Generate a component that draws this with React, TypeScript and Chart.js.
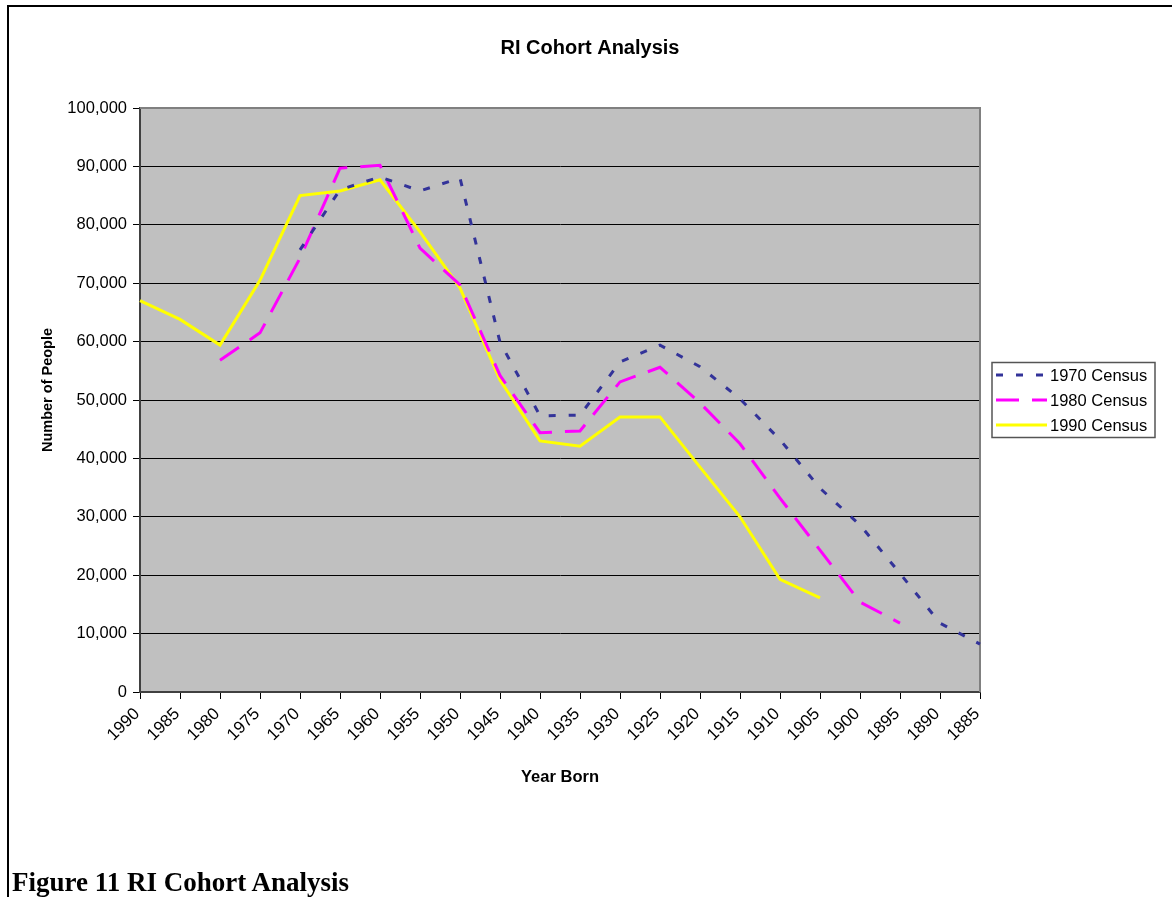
import React, { useEffect, useRef } from "react";
import { Chart, registerables } from "chart.js";

Chart.register(...registerables);

const years = [
  "1990", "1985", "1980", "1975", "1970", "1965", "1960", "1955", "1950", "1945", "1940",
  "1935", "1930", "1925", "1920", "1915", "1910", "1905", "1900", "1895", "1890", "1885",
];

const census1970 = [
  null, null, null, null, 75700, 86000, 88200, 85800, 88000, 59900, 47300,
  47400, 56500, 59400, 55700, 50200, 43200, 34900, 28600, 20300, 11800, 8200,
];

const census1980 = [
  null, null, 56800, 61500, 74300, 89700, 90200, 76000, 69700, 54200, 44400,
  44700, 53100, 55600, 49500, 42500, 33200, 24300, 15400, 11800, null, null,
];

const census1990 = [
  67000, 63800, 59400, 70500, 85000, 85800, 87700, 78800, 69200, 53400, 43000,
  42100, 47100, 47100, 38500, 30000, 19300, 16100, null, null, null, null,
];

const seriesLabels = ["1970 Census", "1980 Census", "1990 Census"];
const yMin = 0;
const yMax = 100000;
const yStep = 10000;

const chartTitle = "RI Cohort Analysis";
const xTitle = "Year Born";
const yTitle = "Number of People";
const caption = "Figure 11 RI Cohort Analysis";

const FONT = 'Arial, "Liberation Sans", Helvetica, sans-serif';

const plotBgPlugin = {
  id: "plotBg",
  beforeDraw(chart: any) {
    const { ctx, chartArea } = chart;
    ctx.save();
    ctx.fillStyle = "#C0C0C0";
    ctx.fillRect(chartArea.left, chartArea.top, chartArea.right - chartArea.left, chartArea.bottom - chartArea.top);
    ctx.restore();
  },
  beforeDatasetsDraw(chart: any) {
    const { ctx, chartArea } = chart;
    ctx.save();
    ctx.strokeStyle = "#808080";
    ctx.lineWidth = 2;
    ctx.beginPath();
    ctx.moveTo(chartArea.left, chartArea.top);
    ctx.lineTo(chartArea.right, chartArea.top);
    ctx.lineTo(chartArea.right, chartArea.bottom);
    ctx.stroke();
    ctx.restore();
  },
  afterDraw(chart: any) {
    // vertical axis title
    const { ctx, chartArea } = chart;
    ctx.save();
    ctx.translate(48, (chartArea.top + chartArea.bottom) / 2 - 10);
    ctx.rotate(-Math.PI / 2);
    ctx.fillStyle = "#000000";
    ctx.font = `bold 14.5px ${FONT}`;
    ctx.textAlign = "center";
    ctx.textBaseline = "middle";
    ctx.fillText(yTitle, 0, 0);
    ctx.restore();
  },
};

const boxLegendPlugin = {
  id: "boxLegend",
  afterDraw(chart: any) {
    const { ctx, chartArea } = chart;
    const ds = chart.data.datasets;
    const rowH = 25;
    const w = 163;
    const h = rowH * ds.length;
    const x = chartArea.right + 12;
    const y = (chartArea.top + chartArea.bottom) / 2 - h / 2;
    ctx.save();
    ctx.fillStyle = "#FFFFFF";
    ctx.fillRect(x, y, w, h);
    ctx.strokeStyle = "#555555";
    ctx.lineWidth = 1.5;
    ctx.strokeRect(x, y, w, h);
    ds.forEach((d: any, i: number) => {
      const cy = y + rowH * i + rowH / 2;
      ctx.beginPath();
      ctx.setLineDash(d.borderDash || []);
      ctx.lineDashOffset = 0;
      ctx.strokeStyle = d.borderColor;
      ctx.lineWidth = d.borderWidth;
      ctx.lineCap = "butt";
      ctx.moveTo(x + 4, cy);
      ctx.lineTo(x + 55, cy);
      ctx.stroke();
      ctx.setLineDash([]);
      ctx.fillStyle = "#000000";
      ctx.font = `16.5px ${FONT}`;
      ctx.textBaseline = "middle";
      ctx.textAlign = "left";
      ctx.fillText(d.label, x + 58, cy + 1);
    });
    ctx.restore();
  },
};

export default function App() {
  const canvasRef = useRef<HTMLCanvasElement | null>(null);

  useEffect(() => {
    if (!canvasRef.current) return;
    Chart.defaults.font.family = FONT;
    Chart.defaults.color = "#000000";
    const chart = new Chart(canvasRef.current, {
      type: "line",
      data: {
        labels: years,
        datasets: [
          {
            label: seriesLabels[0],
            data: census1970,
            borderColor: "#333399",
            borderWidth: 3,
            borderDash: [7, 13],
            borderCapStyle: "butt",
            pointRadius: 0,
            fill: false,
            tension: 0,
            clip: 4,
          },
          {
            label: seriesLabels[1],
            data: census1980,
            borderColor: "#FF00FF",
            borderWidth: 3,
            borderDash: [23, 13],
            borderCapStyle: "butt",
            pointRadius: 0,
            fill: false,
            tension: 0,
            clip: 4,
          },
          {
            label: seriesLabels[2],
            data: census1990,
            borderColor: "#FFFF00",
            borderWidth: 3,
            pointRadius: 0,
            fill: false,
            tension: 0,
            clip: 4,
          },
        ],
      },
      options: {
        responsive: false,
        animation: false,
        events: [],
        layout: { padding: { left: 8, right: 0, top: 0, bottom: 110 } },
        plugins: {
          legend: { display: false },
          tooltip: { enabled: false },
          title: {
            display: true,
            text: chartTitle,
            color: "#000000",
            font: { size: 20, weight: "bold", family: FONT },
            padding: { top: 36, bottom: 48 },
          },
        },
        scales: {
          x: {
            type: "category",
            offset: false,
            grid: {
              display: true,
              drawOnChartArea: false,
              drawTicks: true,
              tickLength: 7,
              color: "#000000",
              tickColor: "#000000",
              lineWidth: 1,
            },
            border: { display: true, color: "#404040", width: 2 },
            ticks: {
              autoSkip: false,
              maxRotation: 45,
              minRotation: 45,
              padding: 5,
              labelOffset: -3,
              color: "#000000",
              font: { size: 17, family: FONT },
            },
            title: {
              display: true,
              text: xTitle,
              color: "#000000",
              font: { size: 16.5, weight: "bold", family: FONT },
              padding: 0,
            },
            afterFit: (s: any) => {
              s.height = 95;
            },
          },
          y: {
            type: "linear",
            position: "left",
            min: yMin,
            max: yMax,
            grid: {
              color: "#000000",
              tickColor: "#000000",
              lineWidth: 1,
              tickLength: 7,
            },
            border: { display: true, color: "#404040", width: 2 },
            ticks: {
              stepSize: yStep,
              padding: 6,
              color: "#000000",
              font: { size: 16.5, family: FONT },
              callback: (v: any) => Number(v).toLocaleString("en-US"),
            },
            title: { display: false },
            afterFit: (s: any) => {
              s.width = 132;
            },
          },
          yR: {
            type: "linear",
            position: "right",
            display: true,
            grid: { display: false, drawTicks: false },
            border: { display: false },
            ticks: { display: false },
            afterFit: (s: any) => {
              s.width = 192;
            },
          },
        },
      },
      plugins: [plotBgPlugin, boxLegendPlugin],
    } as any);
    return () => chart.destroy();
  }, []);

  return (
    <div style={{ position: "absolute", left: 0, top: 0, width: 1172, height: 897, overflow: "hidden", background: "#fff" }}>
      <div
        style={{
          position: "absolute",
          left: 7,
          top: 5,
          width: 1172 - 7,
          height: 897 - 5,
          borderTop: "2px solid #000",
          borderLeft: "2px solid #000",
          boxSizing: "border-box",
        }}
      />
      <canvas ref={canvasRef} width={1172} height={897} style={{ position: "absolute", left: 0, top: 0 }} />
      <div
        style={{
          position: "absolute",
          left: 12,
          top: 869,
          fontFamily: '"Times New Roman", "Liberation Serif", serif',
          fontWeight: "bold",
          fontSize: 27,
          lineHeight: "26px",
          whiteSpace: "nowrap",
          color: "#000",
        }}
      >
        {caption}
      </div>
    </div>
  );
}
